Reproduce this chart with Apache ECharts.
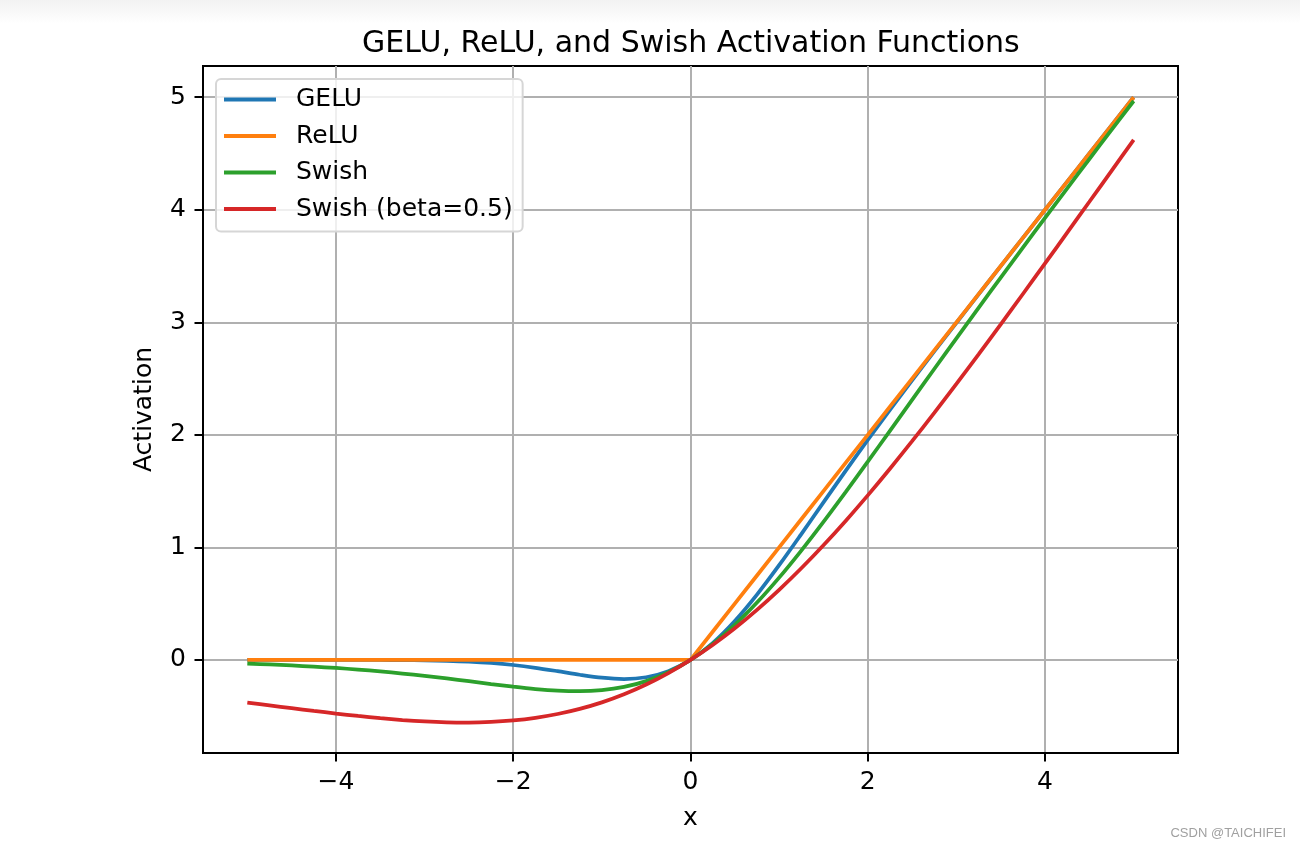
<!DOCTYPE html>
<html>
<head>
<meta charset="utf-8">
<script src="https://cdn.jsdelivr.net/npm/echarts@6/dist/echarts.min.js"></script>
<style>html,body{margin:0;padding:0;background:#fff;}#c{width:1300px;height:849px;}</style>
</head>
<body>
<div id="c"></div>
<script>
const xValues = [-5,-4.75,-4.5,-4.25,-4,-3.75,-3.5,-3.25,-3,-2.75,-2.5,-2.25,-2,-1.75,-1.5,-1.25,-1,-0.75,-0.5,-0.25,0,0.25,0.5,0.75,1,1.25,1.5,1.75,2,2.25,2.5,2.75,3,3.25,3.5,3.75,4,4.25,4.5,4.75,5];
const geluValues = [0,0,0,0,-0.0001,-0.0003,-0.0008,-0.0019,-0.0041,-0.0082,-0.0155,-0.0275,-0.0455,-0.0701,-0.1002,-0.1321,-0.1587,-0.1700,-0.1543,-0.1003,0,0.1497,0.3457,0.5800,0.8413,1.1179,1.3998,1.6799,1.9545,2.2225,2.4845,2.7418,2.9960,3.2481,3.4992,3.7497,3.9999,4.25,4.5,4.75,5.0];
const reluValues = [0,0,0,0,0,0,0,0,0,0,0,0,0,0,0,0,0,0,0,0,0,0.25,0.5,0.75,1,1.25,1.5,1.75,2,2.25,2.5,2.75,3,3.25,3.5,3.75,4,4.25,4.5,4.75,5];
const swishValues = [-0.0335,-0.0407,-0.0494,-0.0598,-0.0719,-0.0862,-0.1026,-0.1213,-0.1423,-0.1652,-0.1896,-0.2145,-0.2384,-0.2591,-0.2736,-0.2784,-0.2689,-0.2406,-0.1888,-0.1095,0,0.1405,0.3112,0.5094,0.7311,0.9716,1.2264,1.4909,1.7616,2.0355,2.3104,2.5848,2.8577,3.1287,3.3974,3.6638,3.9281,4.1902,4.4506,4.7093,4.9665];
const swishHalfValues = [-0.3793,-0.4042,-0.4291,-0.4534,-0.4768,-0.4986,-0.5182,-0.5347,-0.5473,-0.5550,-0.5568,-0.5514,-0.5379,-0.5149,-0.4812,-0.4358,-0.3775,-0.3055,-0.2189,-0.1172,0,0.1328,0.2811,0.4445,0.6225,0.8142,1.0188,1.2351,1.4621,1.6986,1.9433,2.1950,2.4527,2.7153,2.9818,3.2514,3.5232,3.7966,4.0709,4.3458,4.6207];
const seriesNames = ['GELU','ReLU','Swish','Swish (beta=0.5)'];
const xTicks = [-4,-2,0,2,4];
const yTicks = [0,1,2,3,4,5];

const FONT = 'DejaVu Sans';
const colors = ['#1f77b4','#ff7f0e','#2ca02c','#d62728'];
const pair = ys => xValues.map((x,i)=>[x, ys[i]]);
const allY = [geluValues, reluValues, swishValues, swishHalfValues];
const fmt = v => String(v).replace('-', '\u2212');

const chart = echarts.init(document.getElementById('c'), null, {renderer:'canvas'});
chart.setOption({
  animation: false,
  backgroundColor: '#fff',
  color: colors,
  title: {
    text: 'GELU, ReLU, and Swish Activation Functions',
    left: 362, top: 29, padding: 0,
    textStyle: {fontFamily: FONT, fontSize: 30, fontWeight: 'normal', color: '#000'}
  },
  graphic: [
    {type:'rect', left:0, top:0, z:-10, shape:{width:1300, height:24},
     style:{fill:{type:'linear', x:0, y:0, x2:0, y2:1, colorStops:[{offset:0,color:'#f2f2f2'},{offset:1,color:'#ffffff'}]}}},
    {type:'text', right:14, top:827, style:{text:'CSDN @TAICHIFEI', fill:'#a0a0a0', font:'13px "Liberation Sans", Arial, sans-serif'}}
  ],
  legend: {
    orient: 'vertical', left: 216, top: 79,
    padding: [8, 10, 10, 8],
    itemWidth: 52, itemHeight: 4, itemGap: 11.5,
    icon: 'rect',
    backgroundColor: 'rgba(255,255,255,0.8)',
    borderColor: '#d6d6d6', borderWidth: 2, borderRadius: 5,
    textStyle: {fontFamily: FONT, fontSize: 25, color: '#000', lineHeight: 25, padding: [0,0,0,15]},
    data: seriesNames
  },
  grid: {
    left: 203, top: 66, right: 122, bottom: 96,
    show: true, borderColor: '#000', borderWidth: 2, backgroundColor: 'transparent',
    containLabel: false
  },
  xAxis: {
    type: 'value', min: -5.5, max: 5.5,
    name: 'x', nameLocation: 'middle', nameGap: 53,
    nameTextStyle: {fontFamily: FONT, fontSize: 25, color: '#000'},
    axisLine: {show: true, onZero: false, lineStyle: {color: '#000', width: 2}},
    axisTick: {show: true, length: 8.5, lineStyle: {color: '#000', width: 2}, customValues: xTicks},
    axisLabel: {fontFamily: FONT, fontSize: 25, color: '#000', margin: 17, customValues: xTicks, formatter: fmt},
    splitLine: {show: true, lineStyle: {color: '#b0b0b0', width: 2}}
  },
  yAxis: {
    type: 'value', min: -0.8275, max: 5.2775,
    name: 'Activation', nameLocation: 'middle', nameGap: 46, nameRotate: 90,
    nameTextStyle: {fontFamily: FONT, fontSize: 25, color: '#000'},
    axisLine: {show: true, onZero: false, lineStyle: {color: '#000', width: 2}},
    axisTick: {show: true, length: 8.5, lineStyle: {color: '#000', width: 2}, customValues: yTicks},
    axisLabel: {fontFamily: FONT, fontSize: 25, color: '#000', margin: 17, customValues: yTicks, formatter: fmt},
    splitLine: {show: true, lineStyle: {color: '#b0b0b0', width: 2}}
  },
  series: seriesNames.map((n, i) => ({
    name: n, type: 'line', data: pair(allY[i]),
    showSymbol: false, symbol: 'none',
    smooth: i === 1 ? false : 0.3,
    lineStyle: {width: 3.75, color: colors[i]},
    itemStyle: {color: colors[i]},
    z: 2 + i
  }))
});
</script>
</body>
</html>
